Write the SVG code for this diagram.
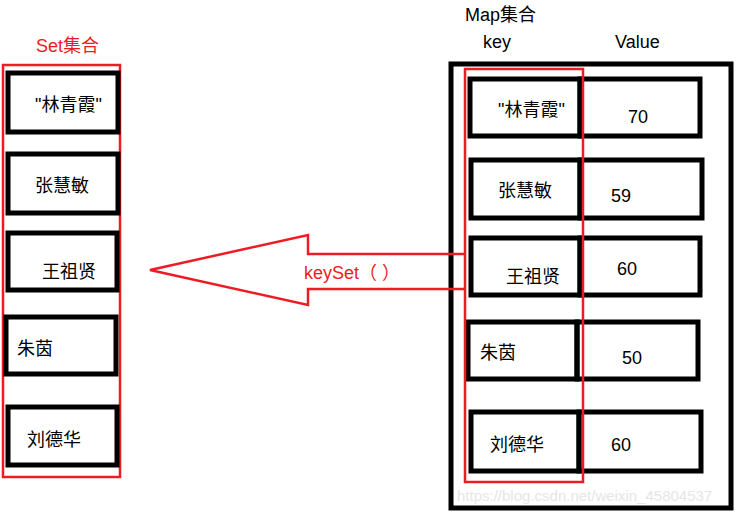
<svg xmlns="http://www.w3.org/2000/svg" width="738" height="514" viewBox="0 0 738 514">
<style>
.b{fill:none;stroke:#000;stroke-width:5}
.r{fill:none;stroke:#ed1c24;stroke-width:2.5}
text{font-family:"Liberation Sans","Noto Sans CJK SC",sans-serif;font-size:18px;fill:#000}
.red{fill:#ed1c24}
</style>
<rect width="738" height="514" fill="#fff"/>
<text class="red" x="36" y="52">Set集合</text>
<g id="set">
<rect class="r" x="3" y="65" width="117" height="412"/>
<g id="s1"><rect class="b" x="8" y="73" width="110" height="59"/><text x="35" y="111">"林青霞"</text></g>
<g id="s2"><rect class="b" x="8" y="154" width="110" height="59"/><text x="35" y="192">张慧敏</text></g>
<g id="s3"><rect class="b" x="8" y="233" width="109" height="57"/><text x="42" y="278">王祖贤</text></g>
<g id="s4"><rect class="b" x="6" y="317" width="110" height="57"/><text x="17" y="355">朱茵</text></g>
<g id="s5"><rect class="b" x="8" y="407" width="109" height="58"/><text x="27" y="446">刘德华</text></g>
</g>
<text x="465" y="21">Map集合</text>
<text x="483" y="48">key</text>
<text x="615" y="48">Value</text>
<g id="map">
<rect class="b" x="451" y="64" width="280" height="444"/>
<g id="m1"><rect class="b" x="470" y="79" width="110" height="57"/><rect class="b" x="580" y="79" width="120" height="57"/><text x="498" y="116">"林青霞"</text><text x="628" y="123">70</text></g>
<g id="m2"><rect class="b" x="471" y="160" width="109" height="58"/><rect class="b" x="580" y="160" width="122" height="58"/><text x="498" y="197">张慧敏</text><text x="611" y="202">59</text></g>
<g id="m3"><rect class="b" x="471" y="238" width="109" height="57"/><rect class="b" x="580" y="238" width="120" height="57"/><text x="506" y="283">王祖贤</text><text x="617" y="275">60</text></g>
<g id="m4"><rect class="b" x="468" y="322" width="109" height="57"/><rect class="b" x="577" y="322" width="121" height="57"/><text x="480" y="359">朱茵</text><text x="622" y="364">50</text></g>
<g id="m5"><rect class="b" x="471" y="412" width="108" height="59"/><rect class="b" x="579" y="412" width="122" height="59"/><text x="490" y="451">刘德华</text><text x="611" y="451">60</text></g>
<rect class="r" x="465" y="69" width="118" height="413"/>
</g>
<g id="connectors">
<polyline class="r" points="465,254 308,254 308,235 150,270 308,305 308,289 465,289"/>
<text class="red" x="304" y="279">keySet（ ）</text>
</g>
<text x="457" y="501" style="fill:#e6e6e6;font-size:15px">https://blog.csdn.net/weixin_45804537</text>
</svg>
